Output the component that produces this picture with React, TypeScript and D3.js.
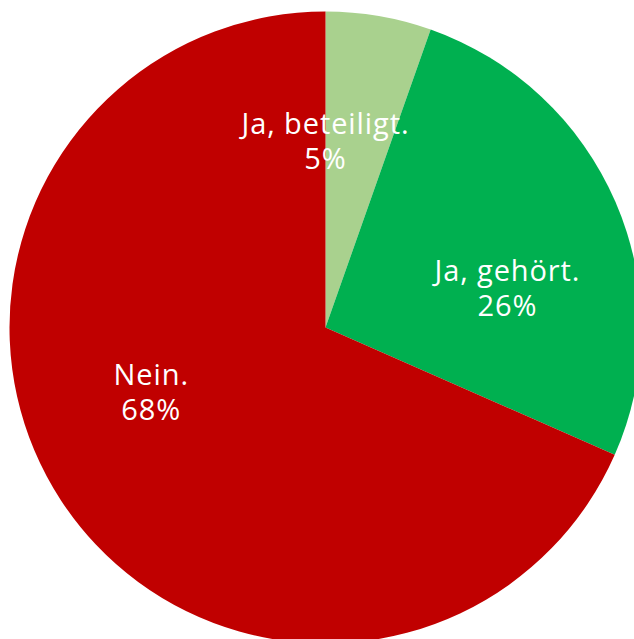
import React from "react";
import * as d3 from "d3";

const categories = ["Ja, beteiligt.", "Ja, gehört.", "Nein."];
const values = [5.4, 26.2, 68.4];
const colors = ["#a9d18e", "#00b050", "#c00000"];
const labelAngles = [0, 78, 249.5];

const W = 634;
const H = 639;
const cx = 325.5;
const cy = 327.5;
const R = 316;
const labelR = 186;

export default function App() {
  const pie = d3.pie<number>().sort(null).value((d) => d)(values);
  const arc = d3.arc<d3.PieArcDatum<number>>().innerRadius(0).outerRadius(R);
  return (
    <svg
      width={W}
      height={H}
      style={{ position: "absolute", left: 0, top: 0, overflow: "hidden" }}
    >
      <rect width={W} height={H} fill="#ffffff" />
      <g transform={`translate(${cx},${cy})`}>
        {pie.map((p, i) => (
          <path key={i} d={arc(p) || ""} fill={colors[i]} />
        ))}
        {pie.map((p, i) => {
          const a = (labelAngles[i] * Math.PI) / 180;
          const x = Math.sin(a) * labelR;
          const y = -Math.cos(a) * labelR;
          return (
            <text
              key={"t" + i}
              x={x}
              y={y}
              textAnchor="middle"
              fill="#ffffff"
              fontFamily="'Open Sans', sans-serif"
              fontSize={29}
              letterSpacing={0.9}
            >
              <tspan x={x} dy={-8}>{categories[i]}</tspan>
              <tspan x={x} dy={35}>{Math.round(values[i])}%</tspan>
            </text>
          );
        })}
      </g>
    </svg>
  );
}
